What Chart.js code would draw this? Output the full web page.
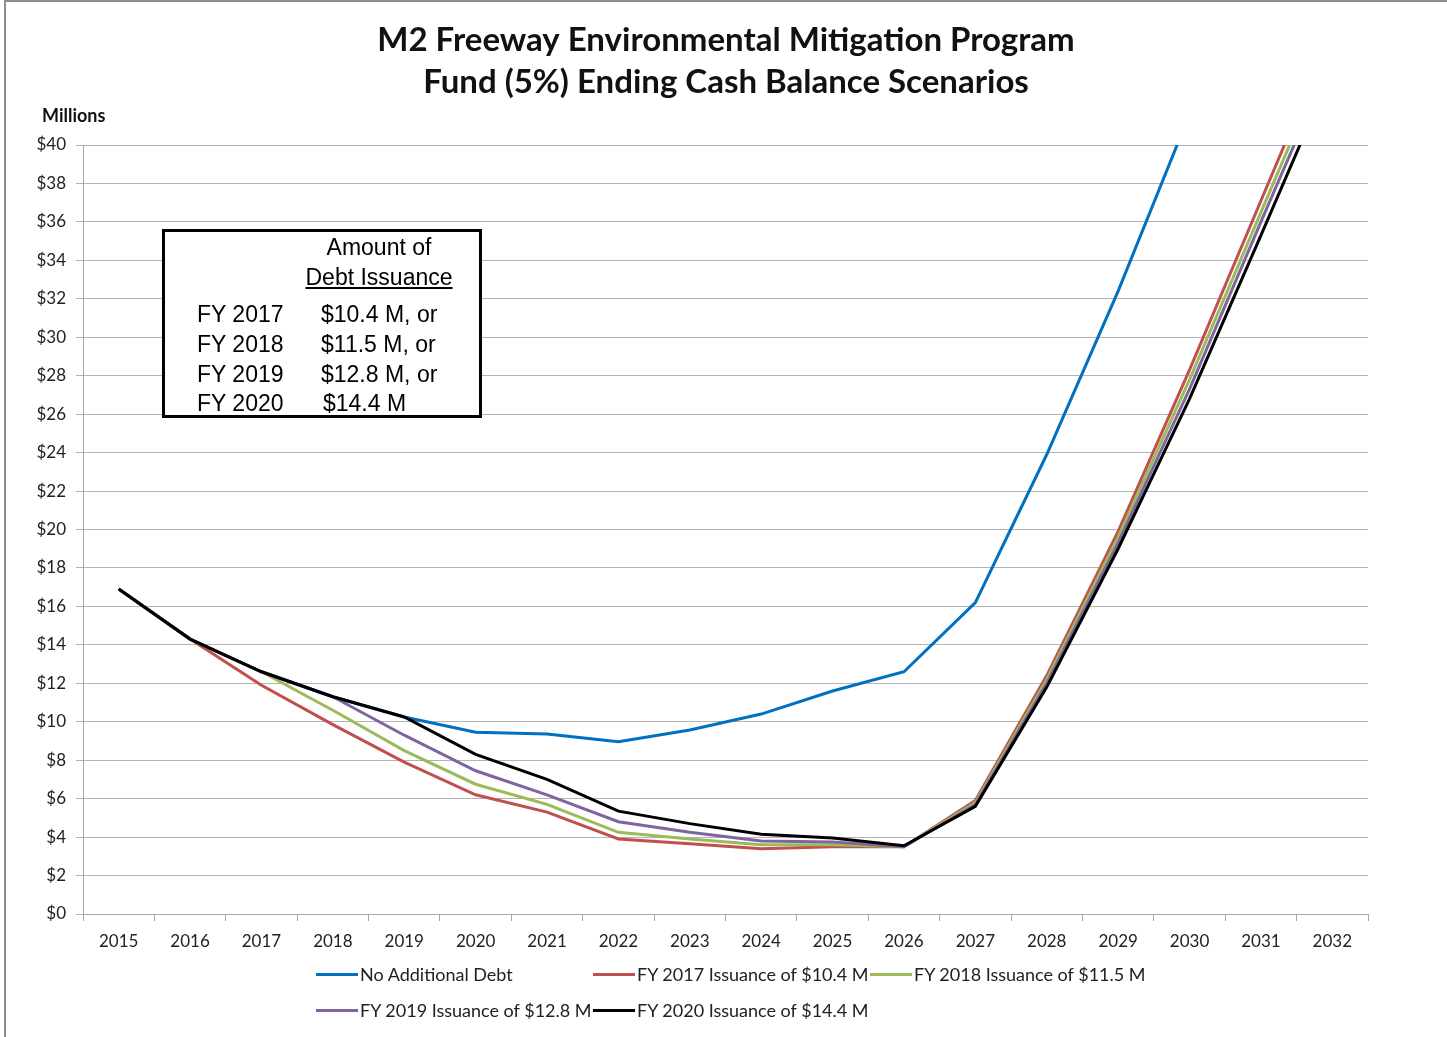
<!DOCTYPE html>
<html>
<head>
<meta charset="utf-8">
<script src="https://cdn.jsdelivr.net/npm/chart.js@4"></script>
<style>
    html, body { margin: 0; padding: 0; background: #fff; }
    #wrap { position: relative; width: 1447px; height: 1037px; overflow: hidden; }
    #frame { position: absolute; left: 4px; top: 0; width: 1443px; height: 1037px;
             border-left: 2px solid #8c8c8c; border-top: 2px solid #8c8c8c; box-sizing: border-box; pointer-events: none; }
    #units { position: absolute; left: 42px; top: 104px; font: bold 18px Lato, sans-serif; color: #111; }
    #debt-box { position: absolute; left: 162px; top: 229px; width: 320px; height: 189px;
                border: 3px solid #000; box-sizing: border-box; background: #fff;
                font-family: "Liberation Sans", Arial, sans-serif; font-size: 23px; color: #000; }
    #debt-box .hd { position: absolute; left: 136px; width: 156px; text-align: center; line-height: 30px; }
    #debt-box .row { position: absolute; left: 32px; line-height: 30px; white-space: nowrap; }
    #debt-box .row span { position: absolute; left: 124px; }
    #legend { position: absolute; left: 316px; top: 961px; display: grid;
              grid-template-columns: 277px 277px 277px; row-gap: 10px;
              font: 18px Lato, sans-serif; color: #222; }
    #legend .item { display: flex; align-items: center; height: 26px; white-space: nowrap; }
    #legend .swatch { width: 42px; height: 3px; margin-right: 2px; flex: none; }
</style>
</head>
<body>
<div id="wrap">
    <canvas id="cashChart" width="1447" height="1037"></canvas>
    <div id="frame"></div>
    <div id="units">Millions</div>
    <div id="debt-box">
        <div class="hd" style="top: 0px;">Amount of</div>
        <div class="hd" style="top: 30px;"><u>Debt Issuance</u></div>
        <div class="row" style="top: 67px;">FY 2017<span>$10.4 M, or</span></div>
        <div class="row" style="top: 97px;">FY 2018<span>$11.5 M, or</span></div>
        <div class="row" style="top: 127px;">FY 2019<span>$12.8 M, or</span></div>
        <div class="row" style="top: 156px;">FY 2020<span style="left: 126px;">$14.4 M</span></div>
    </div>
    <div id="legend"></div>
</div>
<script>
const years = ['2015', '2016', '2017', '2018', '2019', '2020', '2021', '2022', '2023',
               '2024', '2025', '2026', '2027', '2028', '2029', '2030', '2031', '2032'];

const noDebt   = [16.9, 14.3, 12.6, 11.3, 10.25, 9.45, 9.36, 8.96, 9.57, 10.4, 11.6, 12.6, 16.2, 23.9, 32.4, 41.6, 51.0, 61.0];
const fy2017   = [16.9, 14.3, 11.9, 9.85, 7.9, 6.2, 5.3, 3.9, 3.65, 3.4, 3.5, 3.5, 5.9, 12.4, 19.9, 28.3, 37.1, 45.9];
const fy2018   = [16.9, 14.3, 12.6, 10.6, 8.5, 6.75, 5.7, 4.25, 3.9, 3.6, 3.6, 3.5, 5.8, 12.2, 19.6, 27.8, 36.5, 45.2];
const fy2019   = [16.9, 14.3, 12.6, 11.3, 9.3, 7.45, 6.2, 4.8, 4.25, 3.8, 3.75, 3.5, 5.7, 12.0, 19.3, 27.3, 36.0, 44.6];
const fy2020   = [16.9, 14.3, 12.6, 11.3, 10.25, 8.3, 7.0, 5.35, 4.7, 4.15, 3.95, 3.55, 5.6, 11.8, 19.0, 26.8, 35.3, 43.9];

const seriesNames  = ['No Additional Debt', 'FY 2017 Issuance of $10.4 M', 'FY 2018 Issuance of $11.5 M',
                      'FY 2019 Issuance of $12.8 M', 'FY 2020 Issuance of $14.4 M'];
const seriesColors = ['#0070c0', '#c0504d', '#9bbb59', '#8064a2', '#000000'];
const seriesData   = [noDebt, fy2017, fy2018, fy2019, fy2020];

const yMin = 0, yMax = 40, yStep = 2;
const titleLines = ['M2 Freeway Environmental Mitigation Program', 'Fund (5%) Ending Cash Balance Scenarios'];

const datasets = seriesData.map((data, i) => ({
    label: seriesNames[i],
    data: data,
    borderColor: seriesColors[i],
    backgroundColor: seriesColors[i],
    borderWidth: 3,
    pointRadius: 0,
    tension: 0,
    // last series sits on top, like the original
    order: seriesData.length - i
}));

const chart = new Chart(document.getElementById('cashChart'), {
    type: 'line',
    data: { labels: years, datasets: datasets },
    options: {
        responsive: false,
        animation: false,
        layout: { padding: { left: 5, right: 0, top: 0, bottom: 83 } },
        plugins: {
            legend: { display: false },
            tooltip: { enabled: false },
            title: {
                display: true,
                text: titleLines,
                color: '#111',
                font: { family: 'Lato', size: 33, weight: 'bold', lineHeight: 42 / 33 },
                padding: { top: 19, bottom: 42 }
            }
        },
        scales: {
            x: {
                offset: true,
                grid: { display: true, drawOnChartArea: false, offset: true, tickLength: 7, color: '#a6a6a6' },
                border: { color: '#a6a6a6' },
                ticks: { color: '#222', font: { family: 'Lato', size: 17 }, maxRotation: 0, padding: 10 },
                afterFit: (scale) => { scale.height = 40; }
            },
            y: {
                min: yMin,
                max: yMax,
                ticks: {
                    stepSize: yStep,
                    color: '#222',
                    font: { family: 'Lato', size: 17 },
                    padding: 10,
                    callback: (v) => '$' + v
                },
                grid: { color: '#b4b4b4', tickLength: 7 },
                border: { color: '#a6a6a6' },
                afterFit: (scale) => { scale.width = 78; }
            },
            // empty right margin so the title centres like the original
            yRight: {
                position: 'right',
                min: yMin,
                max: yMax,
                ticks: { display: false },
                grid: { display: false },
                border: { display: false },
                afterFit: (scale) => { scale.width = 79; }
            }
        }
    }
});

// legend laid out in fixed columns, like the spreadsheet legend
const legendEl = document.getElementById('legend');
chart.data.datasets.forEach((ds) => {
    const item = document.createElement('div');
    item.className = 'item';
    item.innerHTML = `<div class="swatch" style="background:${ds.borderColor}"></div><div>${ds.label}</div>`;
    legendEl.appendChild(item);
});
</script>
</body>
</html>
